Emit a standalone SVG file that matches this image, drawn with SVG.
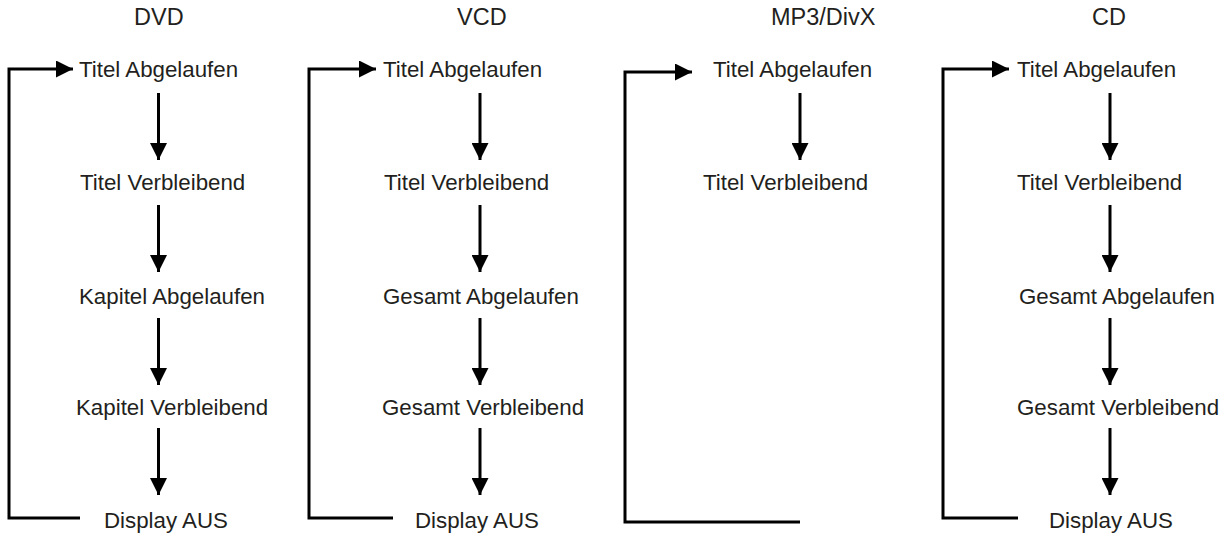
<svg xmlns="http://www.w3.org/2000/svg" width="1224" height="534" viewBox="0 0 1224 534">
<defs>
<style>
.t{font-family:"Liberation Sans",Arial,Helvetica,sans-serif;font-size:22.3px;fill:#231f20}
.h{font-family:"Liberation Sans",Arial,Helvetica,sans-serif;font-size:23.5px;fill:#231f20}
.ln{fill:none;stroke:#000;stroke-width:3}
</style>
<marker id="ah" markerUnits="userSpaceOnUse" viewBox="0 0 17 17" refX="17" refY="8.5" markerWidth="17" markerHeight="17" orient="auto"><path d="M0,0L17,8.5L0,17Z" fill="#000"/></marker>
</defs>
<rect width="1224" height="534" fill="#fff"/>
<g id="headers">
<text class="h" x="134" y="25">DVD</text>
<text class="h" x="457" y="25">VCD</text>
<text class="h" x="771" y="25">MP3/DivX</text>
<text class="h" x="1092" y="25">CD</text>
</g>
<g id="dvd">
<g id="dvd-1"><text class="t" x="79" y="77">Titel Abgelaufen</text></g>
<g id="dvd-2"><text class="t" x="80" y="190">Titel Verbleibend</text></g>
<g id="dvd-3"><text class="t" x="79" y="304">Kapitel Abgelaufen</text></g>
<g id="dvd-4"><text class="t" x="76" y="415">Kapitel Verbleibend</text></g>
<g id="dvd-5"><text class="t" x="104" y="528">Display AUS</text></g>
</g>
<g id="vcd">
<g id="vcd-1"><text class="t" x="383" y="77">Titel Abgelaufen</text></g>
<g id="vcd-2"><text class="t" x="384" y="190">Titel Verbleibend</text></g>
<g id="vcd-3"><text class="t" x="383" y="304">Gesamt Abgelaufen</text></g>
<g id="vcd-4"><text class="t" x="382" y="415">Gesamt Verbleibend</text></g>
<g id="vcd-5"><text class="t" x="415" y="528">Display AUS</text></g>
</g>
<g id="mp3">
<g id="mp3-1"><text class="t" x="713" y="77">Titel Abgelaufen</text></g>
<g id="mp3-2"><text class="t" x="703" y="190">Titel Verbleibend</text></g>
</g>
<g id="cd">
<g id="cd-1"><text class="t" x="1017" y="77">Titel Abgelaufen</text></g>
<g id="cd-2"><text class="t" x="1017" y="190">Titel Verbleibend</text></g>
<g id="cd-3"><text class="t" x="1019" y="304">Gesamt Abgelaufen</text></g>
<g id="cd-4"><text class="t" x="1017" y="415">Gesamt Verbleibend</text></g>
<g id="cd-5"><text class="t" x="1049" y="528">Display AUS</text></g>
</g>
<g id="connectors">
<path class="ln" d="M80,518H9V69H73" marker-end="url(#ah)"/>
<path class="ln" d="M158.5,93V160" marker-end="url(#ah)"/>
<path class="ln" d="M158.5,205V272" marker-end="url(#ah)"/>
<path class="ln" d="M158.5,318V385" marker-end="url(#ah)"/>
<path class="ln" d="M158.5,428V495" marker-end="url(#ah)"/>
<path class="ln" d="M393,518H309V69H376" marker-end="url(#ah)"/>
<path class="ln" d="M480,93V160" marker-end="url(#ah)"/>
<path class="ln" d="M480,205V272" marker-end="url(#ah)"/>
<path class="ln" d="M480,318V385" marker-end="url(#ah)"/>
<path class="ln" d="M480,428V495" marker-end="url(#ah)"/>
<path class="ln" d="M800,522H625V72H692" marker-end="url(#ah)"/>
<path class="ln" d="M800,93V160" marker-end="url(#ah)"/>
<path class="ln" d="M1018,518H943V69H1009" marker-end="url(#ah)"/>
<path class="ln" d="M1110,93V160" marker-end="url(#ah)"/>
<path class="ln" d="M1110,205V272" marker-end="url(#ah)"/>
<path class="ln" d="M1110,318V385" marker-end="url(#ah)"/>
<path class="ln" d="M1110,428V495" marker-end="url(#ah)"/>
</g>
</svg>
